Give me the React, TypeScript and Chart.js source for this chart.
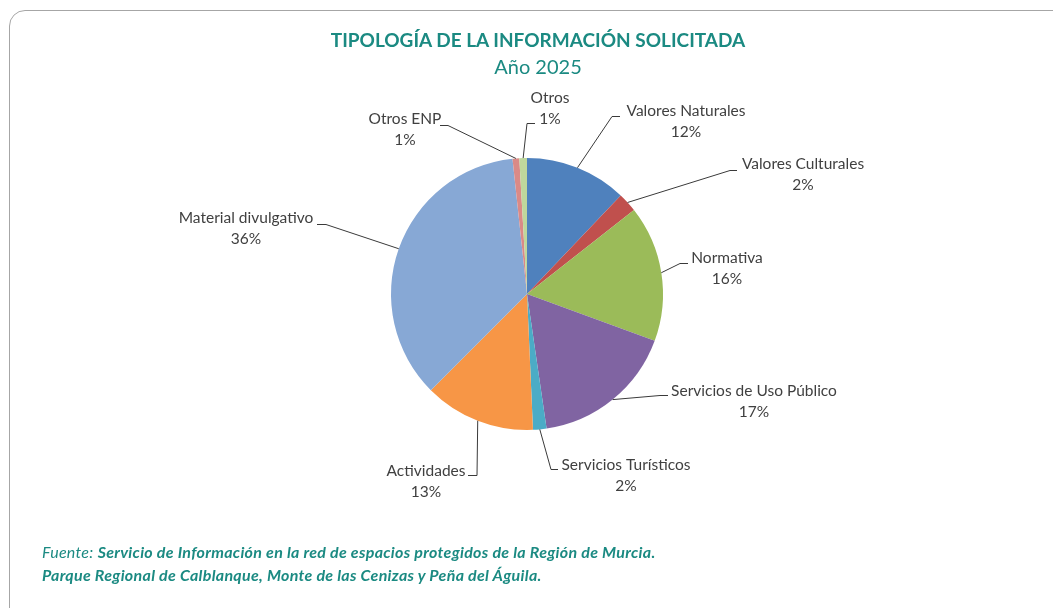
import React, { useEffect, useRef } from "react";
import { Chart, registerables } from "chart.js";

Chart.register(...registerables);

const categories = [
  "Valores Naturales",
  "Valores Culturales",
  "Normativa",
  "Servicios de Uso Público",
  "Servicios Turísticos",
  "Actividades",
  "Material divulgativo",
  "Otros ENP",
  "Otros",
];
const values = [12.1, 2.3, 16.2, 17.1, 1.6, 13.2, 35.8, 0.8, 0.9];
const colors = [
  "#4F81BD",
  "#C0504D",
  "#9BBB59",
  "#8064A2",
  "#4BACC6",
  "#F79646",
  "#87A8D5",
  "#DA8A87",
  "#BFD79C",
];

// label layout (relative to pie centre): elbow point, stub end x, text centre
const labelLayout = [
  { ex: 85, ey: -178, sx: 93, lx: 159, ly: -183 },
  { ex: 203, ey: -124, sx: 210, lx: 276, ly: -130 },
  { ex: 153, ey: -31, sx: 161, lx: 200, ly: -36 },
  { ex: 133, ey: 101, sx: 141, lx: 227, ly: 97 },
  { ex: 24, ey: 175, sx: 31, lx: 99, ly: 171 },
  { ex: -50, ey: 181, sx: -59, lx: -101, ly: 177 },
  { ex: -201, ey: -70, sx: -210, lx: -281, ly: -76 },
  { ex: -79, ey: -169, sx: -87, lx: -122, ly: -175 },
  { ex: 0, ey: -171, sx: 8, lx: 23, ly: -196 },
];

const TEAL = "#1B8A82";
const FONT = "Lato, 'Open Sans', sans-serif";

const labelPlugin = {
  id: "pieLabels",
  afterDraw(chart: any) {
    const ctx = chart.ctx;
    const meta = chart.getDatasetMeta(0);
    const total = values.reduce((a, b) => a + b, 0);
    ctx.save();
    meta.data.forEach((arc: any, i: number) => {
      const { x, y, startAngle, endAngle, outerRadius } = arc.getProps(
        ["x", "y", "startAngle", "endAngle", "outerRadius"],
        true
      );
      const L = labelLayout[i];
      const mid = (startAngle + endAngle) / 2;
      const px = x + Math.cos(mid) * outerRadius;
      const py = y + Math.sin(mid) * outerRadius;
      ctx.strokeStyle = "#3a3a3a";
      ctx.lineWidth = 1;
      ctx.beginPath();
      ctx.moveTo(px, py);
      ctx.lineTo(x + L.ex, y + L.ey + 0.5);
      ctx.lineTo(x + L.sx, y + L.ey + 0.5);
      ctx.stroke();
      ctx.fillStyle = "#404040";
      ctx.font = `15.5px ${FONT}`;
      ctx.textAlign = "center";
      ctx.textBaseline = "middle";
      ctx.fillText(categories[i], x + L.lx, y + L.ly);
      const pct = Math.round((values[i] / total) * 100) + "%";
      ctx.fillText(pct, x + L.lx, y + L.ly + 21);
    });
    ctx.restore();
  },
};

export default function App() {
  const ref = useRef<HTMLCanvasElement>(null);
  useEffect(() => {
    if (!ref.current) return;
    const chart = new Chart(ref.current, {
      type: "pie",
      data: {
        labels: categories,
        datasets: [
          {
            data: values,
            backgroundColor: colors,
            borderWidth: 0,
          },
        ],
      },
      options: {
        responsive: false,
        animation: false,
        layout: { padding: { top: 158, bottom: 178, left: 300, right: 299 } },
        plugins: {
          legend: { display: false },
          tooltip: { enabled: false },
          title: { display: false },
        },
      },
      plugins: [labelPlugin],
    });
    return () => chart.destroy();
  }, []);

  return (
    <div
      style={{
        position: "absolute",
        left: 0,
        top: 0,
        width: 1053,
        height: 608,
        overflow: "hidden",
        background: "#fff",
        fontFamily: FONT,
      }}
    >
      <div
        style={{
          position: "absolute",
          left: 9,
          top: 10,
          width: 1100,
          height: 700,
          border: "1.5px solid #a6a6a6",
          borderRadius: 16,
          boxSizing: "border-box",
        }}
      />
      <canvas
        ref={ref}
        width={1053}
        height={608}
        style={{ position: "absolute", left: 0, top: 0, display: "block" }}
      />
      <div
        style={{
          position: "absolute",
          left: 0,
          width: 1076,
          top: 26,
          textAlign: "center",
          color: TEAL,
          fontSize: 20,
          lineHeight: "27px",
        }}
      >
        <div style={{ fontWeight: 700, fontSize: 19 }}>TIPOLOGÍA DE LA INFORMACIÓN SOLICITADA</div>
        <div>Año 2025</div>
      </div>
      <div
        style={{
          position: "absolute",
          left: 42,
          top: 540,
          color: TEAL,
          fontSize: 16,
          letterSpacing: "0.3px",
          lineHeight: "23px",
          fontStyle: "italic",
        }}
      >
        <div>
          Fuente: <b>Servicio de Información en la red de espacios protegidos de la Región de Murcia.</b>
        </div>
        <div>
          <b>Parque Regional de Calblanque, Monte de las Cenizas y Peña del Águila.</b>
        </div>
      </div>
    </div>
  );
}
